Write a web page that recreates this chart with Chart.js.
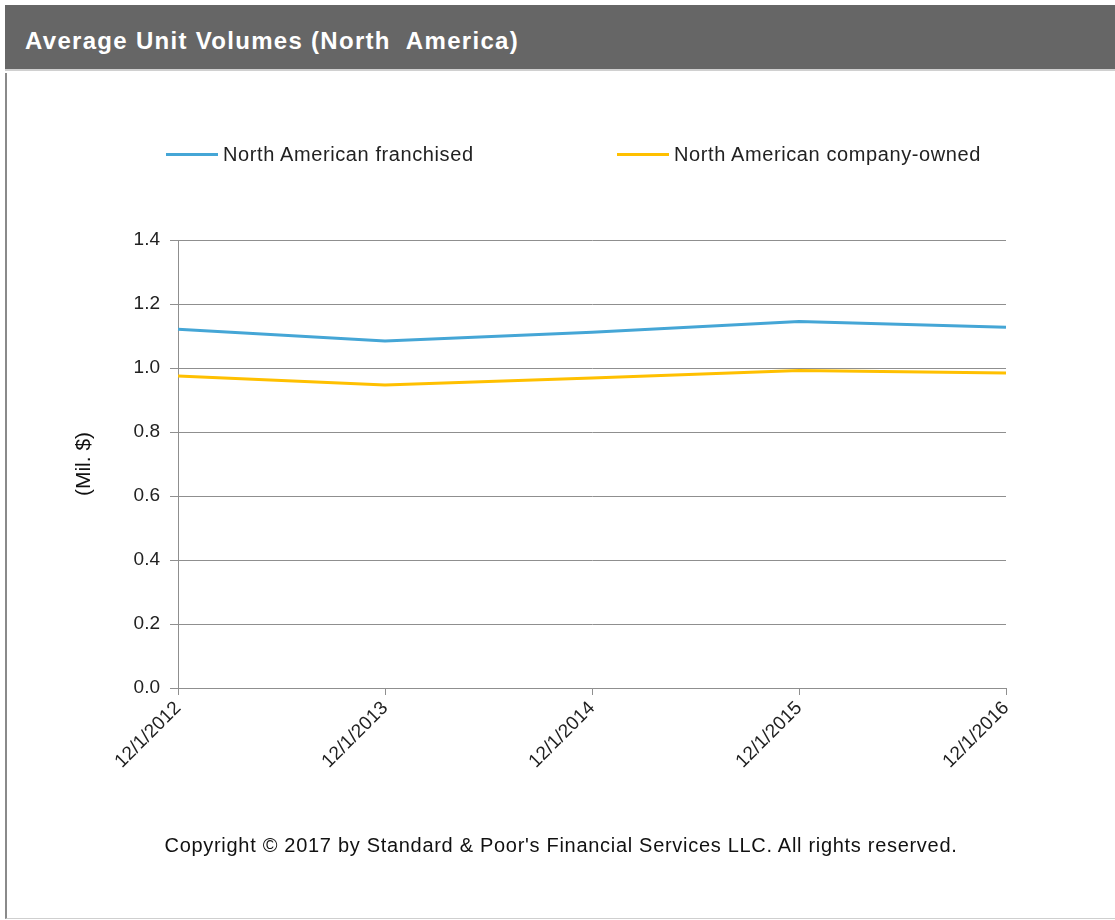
<!DOCTYPE html>
<html>
<head>
<meta charset="utf-8">
<title>Average Unit Volumes (North America)</title>
<script src="https://cdn.jsdelivr.net/npm/chart.js@4"></script>
<style>
  body { margin: 0; background: #fff; font-family: "Liberation Sans", Arial, sans-serif; }
  #page { position: relative; width: 1115px; height: 920px; overflow: hidden; }
  #chart-canvas { position: absolute; left: 0; top: 0; }
  #header {
    position: absolute; left: 5px; top: 5px; width: 1110px; height: 66px;
    background: #666; border-bottom: 2px solid #d0d0d0;
    color: #fff; font-weight: bold; font-size: 24px; letter-spacing: 1.3px; line-height: 72px;
    padding-left: 20px; box-sizing: border-box; white-space: pre;
  }
  #frame {
    position: absolute; left: 5px; top: 73px; width: 1110px; height: 846px;
    border-left: 2px solid #8a8a8a; border-bottom: 1px solid #cfcfcf; box-sizing: border-box;
  }
  .legend-item { position: absolute; top: 142px; height: 24px; font-size: 20px; letter-spacing: 0.6px; color: #222; white-space: nowrap; }
  .legend-item span.line { position: absolute; left: 0; top: 11px; width: 52px; height: 3px; }
  .legend-item span.text { position: absolute; left: 57px; top: 0; line-height: 24px; }
  #footer {
    position: absolute; left: 0; width: 1122px; top: 834px; text-align: center;
    font-size: 20px; letter-spacing: 0.7px; color: #111;
  }
</style>
</head>
<body>
<div id="page">
  <canvas id="chart-canvas" width="1115" height="920"></canvas>
  <div id="frame"></div>
  <div id="header">Average Unit Volumes (North  America)</div>
  <div id="legend"></div>
  <div id="footer">Copyright © 2017 by Standard &amp; Poor's Financial Services LLC. All rights reserved.</div>
</div>
<script>
// chart data
const categories = ['12/1/2012', '12/1/2013', '12/1/2014', '12/1/2015', '12/1/2016'];
const franchised = [1.121, 1.084, 1.112, 1.145, 1.127];
const companyOwned = [0.975, 0.947, 0.969, 0.992, 0.984];
const seriesNames = ['North American franchised', 'North American company-owned'];
const seriesColors = ['#45a6d6', '#ffc000'];
const yTicks = [0, 0.2, 0.4, 0.6, 0.8, 1.0, 1.2, 1.4];

const tickFont = { family: '"Liberation Sans", Arial, sans-serif', size: 19 };
const axisGray = '#8f8f8f';

// legend drawn as html so the wide spacing between items can be kept
const legendLeft = [166, 617];
const legendEl = document.getElementById('legend');
seriesNames.forEach((name, i) => {
    const item = document.createElement('div');
    item.className = 'legend-item';
    item.style.left = legendLeft[i] + 'px';
    item.innerHTML = `<span class="line" style="background:${seriesColors[i]}"></span><span class="text">${name}</span>`;
    legendEl.appendChild(item);
});

new Chart(document.getElementById('chart-canvas'), {
    type: 'line',
    data: {
        labels: categories,
        datasets: [
            { label: seriesNames[0], data: franchised, borderColor: seriesColors[0], backgroundColor: seriesColors[0] },
            { label: seriesNames[1], data: companyOwned, borderColor: seriesColors[1], backgroundColor: seriesColors[1] }
        ].map(ds => Object.assign(ds, { borderWidth: 3, pointRadius: 0, tension: 0, fill: false }))
    },
    options: {
        responsive: false,
        animation: false,
        layout: { padding: { left: 68, top: 240, right: 109, bottom: 0 } },
        plugins: {
            legend: { display: false },
            tooltip: { enabled: false }
        },
        scales: {
            x: {
                type: 'category',
                offset: false,
                afterFit: scale => { scale.height = 232; },
                grid: { display: true, drawOnChartArea: false, drawTicks: true, tickLength: 7, color: axisGray, lineWidth: 1 },
                border: { display: true, color: axisGray, width: 1 },
                ticks: { font: tickFont, color: '#222', minRotation: 45, maxRotation: 45, padding: 2, autoSkip: false }
            },
            y: {
                min: 0,
                max: 1.4,
                afterFit: scale => { scale.width = 110; },
                afterBuildTicks: scale => { scale.ticks = yTicks.map(v => ({ value: v })); },
                grid: { color: axisGray, lineWidth: 1, tickLength: 8 },
                border: { display: true, color: axisGray, width: 1 },
                ticks: { font: tickFont, color: '#222', padding: 10, callback: v => v.toFixed(1) },
                title: {
                    display: true,
                    text: '(Mil. $)',
                    font: { family: '"Liberation Sans", Arial, sans-serif', size: 21 },
                    color: '#111'
                }
            }
        }
    }
});
</script>
</body>
</html>
